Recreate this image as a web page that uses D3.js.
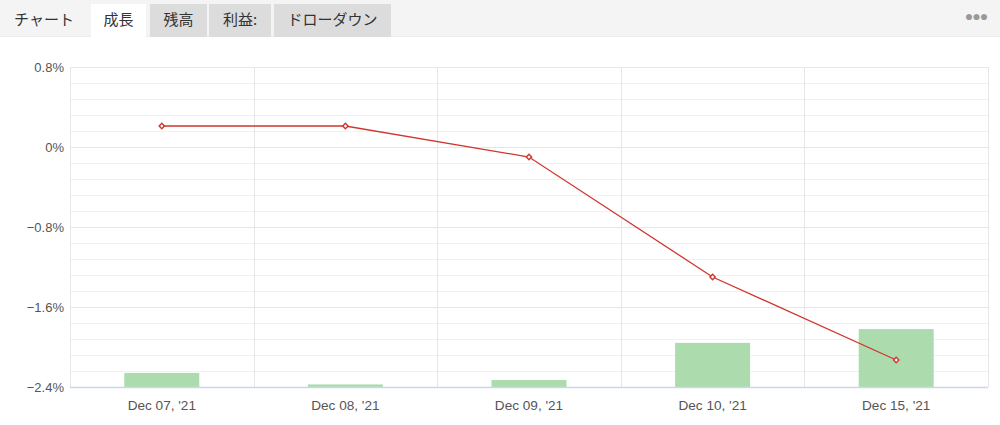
<!DOCTYPE html>
<html>
<head>
<meta charset="utf-8">
<script src="https://cdn.jsdelivr.net/npm/d3@7"></script>
<style>
  body { margin: 0; background: #fff; font-family: "Liberation Sans", Arial, sans-serif; }
</style>
</head>
<body>
<div id="chart"></div>
<script>
// tabs along the top
const tabs = ["チャート", "成長", "残高", "利益:", "ドローダウン"];
const tabX = [0, 91, 150, 209, 274];
const tabW = [88, 55, 57, 62, 117];
const activeTab = 1;

// chart data
const dates = ["Dec 07, '21", "Dec 08, '21", "Dec 09, '21", "Dec 10, '21", "Dec 15, '21"];
const growth = [0.21, 0.21, -0.10, -1.30, -2.13];   // % line
const volume = [4.4, 0.8, 2.2, 13.8, 18.1];          // bars, hidden axis
const yTicks = [0.8, 0, -0.8, -1.6, -2.4];

let width = 1000, height = 425;
let margin = { top: 67, right: 12, bottom: 38, left: 70 };
let innerW = width - margin.left - margin.right;
let innerH = height - margin.top - margin.bottom;

let svg = d3.select("#chart").append("svg")
    .attr("width", width)
    .attr("height", height)
    .style("display", "block");

//START tab bar
svg.append("rect").attr("x", 0).attr("y", 0).attr("width", width).attr("height", 36)
    .attr("fill", "#f4f4f4");
svg.append("line").attr("x1", 0).attr("x2", width).attr("y1", 36.5).attr("y2", 36.5)
    .attr("stroke", "#ececec");

let tabG = svg.selectAll(".tab").data(tabs).enter().append("g").attr("class", "tab");
tabG.append("rect")
    .attr("x", (d, i) => tabX[i])
    .attr("y", 4)
    .attr("width", (d, i) => tabW[i])
    .attr("height", 33)
    .attr("fill", (d, i) => i === activeTab ? "#fff" : (i === 0 ? "none" : "#dcdcdc"));
tabG.append("text")
    .attr("x", (d, i) => tabX[i] + tabW[i] / 2)
    .attr("y", 25)
    .attr("text-anchor", "middle")
    .attr("font-family", "'Noto Sans CJK JP', sans-serif")
    .attr("font-size", 15)
    .attr("fill", "#333")
    .text(d => d);

svg.append("text").attr("x", 976).attr("y", 21).attr("text-anchor", "middle")
    .attr("font-size", 14).attr("fill", "#999").attr("letter-spacing", -1)
    .text("●●●");
//END tab bar

let g = svg.append("g").attr("transform", `translate(${margin.left}, ${margin.top})`);

let x = d3.scaleBand().domain(dates).range([0, innerW]);
let y = d3.scaleLinear().domain([-2.4, 0.8]).range([innerH, 0]);
let yBar = d3.scaleLinear().domain([0, 100]).range([innerH, 0]);

// minor gridlines
g.append("g").selectAll("line")
    .data(d3.range(-2.4, 0.8001, 0.16))
    .enter().append("line")
    .attr("x1", 0).attr("x2", innerW)
    .attr("y1", d => Math.round(y(d)) + 0.5).attr("y2", d => Math.round(y(d)) + 0.5)
    .attr("stroke", "#f1f1f1");

// major gridlines
g.append("g").selectAll("line")
    .data(yTicks)
    .enter().append("line")
    .attr("x1", 0).attr("x2", innerW)
    .attr("y1", d => Math.round(y(d)) + 0.5).attr("y2", d => Math.round(y(d)) + 0.5)
    .attr("stroke", "#e6e6e6");

// vertical category separators
let edges = dates.map(d => x(d)).concat([innerW]);
g.append("g").selectAll("line")
    .data(edges)
    .enter().append("line")
    .attr("x1", d => Math.round(d) + 0.5).attr("x2", d => Math.round(d) + 0.5)
    .attr("y1", 0).attr("y2", innerH)
    .attr("stroke", "#e6e6e6");

// bars
let barW = 75;
g.selectAll(".bar")
    .data(volume)
    .enter().append("rect")
    .attr("class", "bar")
    .attr("x", (d, i) => x(dates[i]) + x.bandwidth() / 2 - barW / 2)
    .attr("y", d => yBar(d))
    .attr("width", barW)
    .attr("height", d => innerH - yBar(d))
    .attr("fill", "#acdcad");

// bottom axis line
g.append("line").attr("x1", 0).attr("x2", innerW)
    .attr("y1", innerH + 0.5).attr("y2", innerH + 0.5)
    .attr("stroke", "#ccd6eb").attr("stroke-width", 1.5);

// y labels
let yAxis = g.append("g")
    .call(d3.axisLeft(y).tickValues(yTicks).tickSize(0).tickPadding(6)
        .tickFormat(d => (d === 0 ? "0" : d3.format(".1f")(d).replace("-", "\u2212")) + "%"));
yAxis.select(".domain").remove();
yAxis.selectAll("text").attr("font-size", 13).attr("fill", "#555")
    .attr("font-family", "'Liberation Sans', Arial, sans-serif");

// x labels
let xAxis = g.append("g")
    .attr("transform", `translate(0, ${innerH})`)
    .call(d3.axisBottom(x).tickSize(0).tickPadding(13));
xAxis.select(".domain").remove();
xAxis.selectAll("text").attr("font-size", 13.6).attr("fill", "#555")
    .attr("font-family", "'Liberation Sans', Arial, sans-serif");

// growth line
let line = d3.line()
    .x((d, i) => x(dates[i]) + x.bandwidth() / 2)
    .y(d => y(d));
g.append("path").datum(growth)
    .attr("d", line)
    .attr("fill", "none")
    .attr("stroke", "#d0362e")
    .attr("stroke-width", 1.3);

g.selectAll(".pt")
    .data(growth)
    .enter().append("path")
    .attr("class", "pt")
    .attr("d", d3.symbol().type(d3.symbolSquare).size(14))
    .attr("transform", (d, i) => `translate(${x(dates[i]) + x.bandwidth() / 2}, ${y(d)}) rotate(45)`)
    .attr("fill", "#fff")
    .attr("stroke", "#d0362e")
    .attr("stroke-width", 1.4);
</script>
</body>
</html>
